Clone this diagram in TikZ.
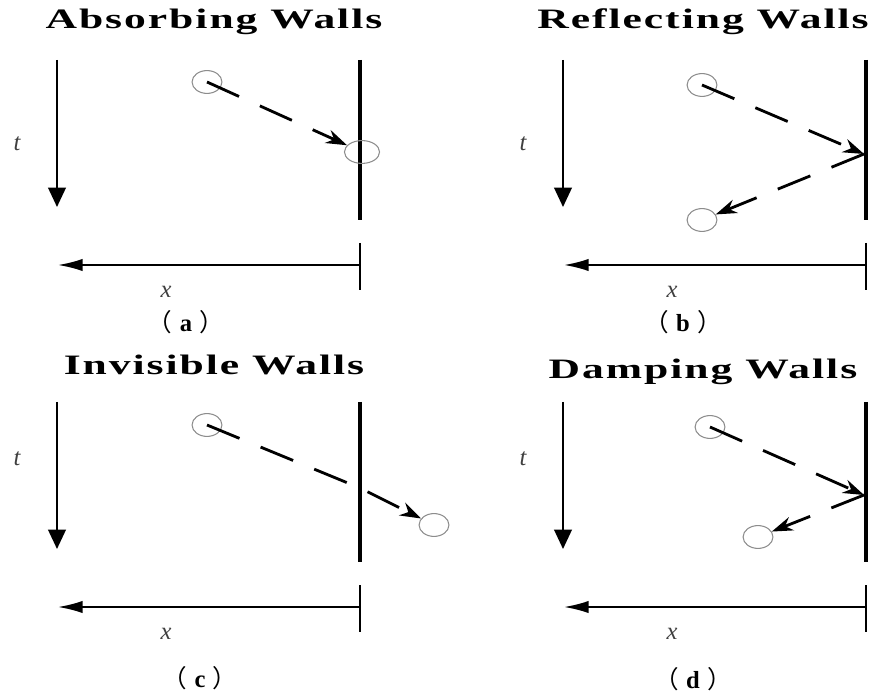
\documentclass[tikz,border=0pt]{standalone}
\usepackage{fontspec}
\setmainfont{Liberation Serif}
\newfontfamily\ttlfont[FakeStretch=1.55,LetterSpace=7]{Liberation Serif}
\newfontfamily\cjk{Noto Sans CJK SC}
\usetikzlibrary{arrows.meta,shapes.geometric}
\definecolor{ringgray}{HTML}{8C8C8C}
\tikzset{
  ptcl/.style={ellipse,draw=ringgray,line width=0.6pt,minimum width=17pt,minimum height=13pt,inner sep=0pt},
  axarr/.style={-{Triangle[length=11pt,width=10pt]},line width=1.2pt},
  xarr/.style={-{Latex[length=14pt,width=7pt]},line width=1.1pt},
  wallln/.style={line width=2.8pt},
  tickln/.style={line width=1.2pt},
  traj/.style={-{Stealth[length=12pt,width=8pt]},line width=1.6pt,dash pattern=on 20pt off 13pt},
  ttl/.style={font=\ttlfont\bfseries\fontsize{16}{18}\selectfont},
  subcap/.style={font=\fontsize{14}{16}\selectfont,inner sep=1pt},
  lab/.style={font=\itshape\fontsize{14}{16}\selectfont,text=black!75},
}
\newcommand{\wallpanel}[4]{% name, x shift, y shift, y of the t label
  \begin{scope}[shift={(#2,#3)}]
    \coordinate (#1ttop) at (57,60);
    \coordinate (#1tbot) at (57,207);
    \draw[axarr] (#1ttop) -- (#1tbot);
    \node[lab] (#1t) at (17,#4) {t};
    \coordinate (#1wtop) at (360,60);
    \coordinate (#1wbot) at (360,220);
    \draw[wallln] (#1wtop) -- (#1wbot);
    \coordinate (#1ktop) at (360,243);
    \coordinate (#1kbot) at (360,290);
    \draw[tickln] (#1ktop) -- (#1kbot);
    \coordinate (#1o) at (360,265);
    \coordinate (#1xend) at (58,265);
    \draw[xarr] (#1o) -- (#1xend);
    \node[lab] (#1x) at (166,292) {x};
  \end{scope}}
\newcommand{\sublbl}[1]{{\cjk （}\hspace{0.3em}\textbf{#1}\hspace{0.3em}{\cjk ）}}
\begin{document}
\begin{tikzpicture}[x=0.02cm,y=-0.02cm]
  \useasboundingbox (0,0) rectangle (875,695);
  \wallpanel{a}{0}{0}{144}
  \wallpanel{b}{506}{0}{144}
  \wallpanel{c}{0}{342}{117}
  \wallpanel{d}{506}{342}{117}
  % titles and captions
  \node[ttl] (atitle) at (214,22) {Absorbing Walls};
  \node[ttl] (btitle) at (703,22) {Reflecting Walls};
  \node[ttl] (ctitle) at (214,365) {Invisible Walls};
  \node[ttl] (dtitle) at (703,372) {Damping Walls};
  \node[subcap] (acap) at (186,322) {\sublbl{a}};
  \node[subcap] (bcap) at (683,322) {\sublbl{b}};
  \node[subcap] (ccap) at (200,678) {\sublbl{c}};
  \node[subcap] (dcap) at (693,679) {\sublbl{d}};
  % (a) absorbed at the wall
  \node[ptcl] (ap1) at (207,82) {};
  \node[ptcl, minimum width=20pt] (ap2) at (362,152) {};
  \draw[traj] (ap1.center) -- (ap2);
  % (b) bounced back
  \node[ptcl] (bp1) at (702,85) {};
  \node[ptcl] (bp2) at (702,220) {};
  \coordinate (bhit) at (864,154);
  \draw[traj] (bp1.center) -- (bhit);
  \draw[traj] (bhit) -- (bp2);
  % (c) passes through
  \node[ptcl] (cp1) at (207,425) {};
  \node[ptcl] (cp2) at (434,525) {};
  \coordinate (chit) at (360,488);
  \draw[traj] (cp1.center) -- (chit) -- (cp2);
  % (d) bounced back, slowed down
  \node[ptcl] (dp1) at (710,427) {};
  \node[ptcl] (dp2) at (758,537) {};
  \coordinate (dhit) at (864,495);
  \draw[traj] (dp1.center) -- (dhit);
  \draw[traj] (dhit) -- (dp2);
\end{tikzpicture}
\end{document}
